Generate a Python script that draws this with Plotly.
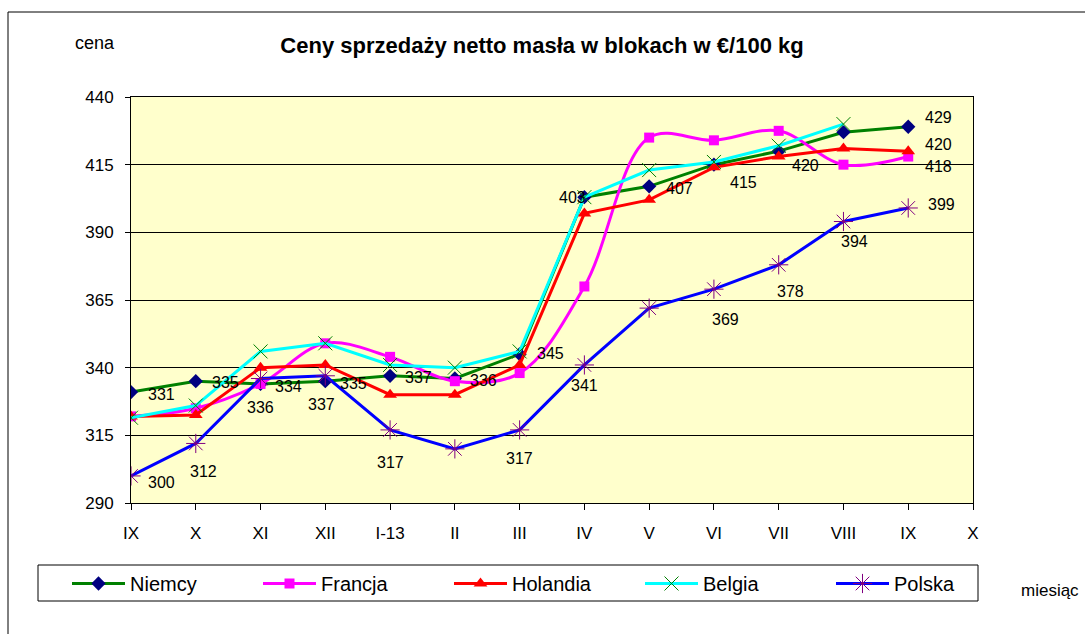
import plotly.graph_objects as go

# ---- data ----
months = ["IX", "X", "XI", "XII", "I-13", "II", "III", "IV", "V", "VI", "VII", "VIII", "IX", "X"]
niemcy = [331, 335, 334, 335, 337, 336, 345, 403, 407, 415, 420, 427, 429]
francja = [322, 325, 334, 349, 344, 335, 338, 370, 425, 424, 427.5, 415, 418]
holandia = [322, 322.5, 340, 341, 330, 330, 341, 397, 402, 414, 418, 421, 420]
belgia = [321.5, 326, 346, 349, 341, 340, 346, 403, 413, 416, 422, 430]
polska = [300, 312, 336, 337, 317, 310, 317, 341, 362, 369, 378, 394, 399]

# labelled points: index -> (dx, dy_down) label offset in px (style only)
lab_niemcy = {0: (30, 2), 1: (30, 1), 2: (28, 3), 3: (28, 2), 4: (28, 2), 5: (29, 2),
              6: (31, -1), 7: (-12, 0), 8: (30, 2), 9: (30, 18), 10: (27, 14), 12: (30, -9)}
lab_holandia = {12: (30, -7)}
lab_francja = {12: (30, 10)}
lab_polska = {0: (30, 7), 1: (8, 28), 2: (0, 29), 3: (-4, 29), 4: (0, 33), 6: (0, 29),
              7: (0, 21), 9: (12, 30), 10: (12, 27), 11: (11, 20), 12: (33, -3)}

FONT = "Liberation Sans, Arial, sans-serif"

fig = go.Figure()

def add(name, vals, line_color, marker, shape="linear"):
    fig.add_trace(go.Scatter(
        x=list(range(len(vals))), y=vals, name=name, mode="lines+markers",
        line=dict(color=line_color, width=3, shape=shape, smoothing=1.0),
        marker=marker,
    ))

add("Niemcy", niemcy, "#008000", dict(symbol="diamond", size=11, color="#000080"))
add("Francja", francja, "#FF00FF", dict(symbol="square", size=10, color="#FF00FF"), shape="spline")
add("Holandia", holandia, "#FF0000", dict(symbol="triangle-up", size=12, color="#FF0000"))
add("Belgia", belgia, "#00FFFF", dict(symbol="x-thin-open", size=14, color="#008000",
                                     line=dict(color="#008000", width=1)))
add("Polska", polska, "#0000FF", dict(symbol="asterisk-open", size=16, color="#800080",
                                     line=dict(color="#800080", width=1)))

annotations = []
for vals, labs in [(niemcy, lab_niemcy), (holandia, lab_holandia),
                   (francja, lab_francja), (polska, lab_polska)]:
    for i, (dx, dy) in labs.items():
        annotations.append(dict(x=i, y=vals[i], xref="x", yref="y", text=f"{vals[i]:.0f}",
                                showarrow=False, xshift=dx, yshift=-dy,
                                font=dict(family=FONT, size=16, color="black")))

annotations.append(dict(text="cena", xref="paper", yref="paper",
                        x=(95 - 131) / 842, y=(503 - 43) / 406, showarrow=False,
                        xanchor="center", yanchor="middle",
                        font=dict(family=FONT, size=18, color="black")))
annotations.append(dict(text="miesiąc", xref="paper", yref="paper",
                        x=(1050 - 131) / 842, y=(503 - 590) / 406, showarrow=False,
                        xanchor="center", yanchor="middle",
                        font=dict(family=FONT, size=17, color="black")))

fig.update_layout(
    width=1085, height=634, autosize=False,
    margin=dict(l=131, r=112, t=97, b=131, pad=0),
    paper_bgcolor="white", plot_bgcolor="#FFFFCC",
    font=dict(family=FONT, size=17, color="black"),
    title=dict(text="<b>Ceny sprzedaży netto masła w blokach w €/100 kg</b>",
               x=(542 - 131) / 842, xref="paper", xanchor="center",
               y=1 - 45 / 634, yanchor="middle",
               font=dict(family=FONT, size=22, color="black")),
    xaxis=dict(range=[0, 13], tickvals=list(range(14)), ticktext=months,
               showgrid=False, zeroline=False, showline=True, linecolor="black",
               linewidth=1, mirror=True, ticks="outside", ticklen=6, tickcolor="black",
               ticklabelstandoff=9, tickfont=dict(size=17)),
    yaxis=dict(range=[290, 440], tick0=290, dtick=25, showgrid=True, gridcolor="black",
               gridwidth=1, zeroline=False, showline=True, linecolor="black",
               linewidth=1, mirror=True, ticks="outside", ticklen=5, tickcolor="black",
               ticklabelstandoff=8, tickfont=dict(size=17)),
    legend=dict(orientation="h", x=(67 - 131) / 842, xanchor="left",
                y=(503 - 564) / 406, yanchor="top",
                bgcolor="rgba(0,0,0,0)", borderwidth=0,
                entrywidth=123, entrywidthmode="pixels", itemwidth=53,
                font=dict(family=FONT, size=20, color="black")),
    annotations=annotations,
    shapes=[
        dict(type="rect", xref="paper", yref="paper",
             x0=(8 - 131) / 842, x1=2, y0=-2, y1=(503 - 12) / 406,
             line=dict(color="black", width=1), fillcolor="rgba(0,0,0,0)", layer="below"),
        dict(type="rect", xref="paper", yref="paper",
             x0=(38 - 131) / 842, x1=(978 - 131) / 842,
             y0=(503 - 601) / 406, y1=(503 - 565) / 406,
             line=dict(color="black", width=1), fillcolor="white", layer="below"),
    ],
)

fig.write_html("out.html", post_script="document.body.style.margin='0';",
               config={"displayModeBar": False})
